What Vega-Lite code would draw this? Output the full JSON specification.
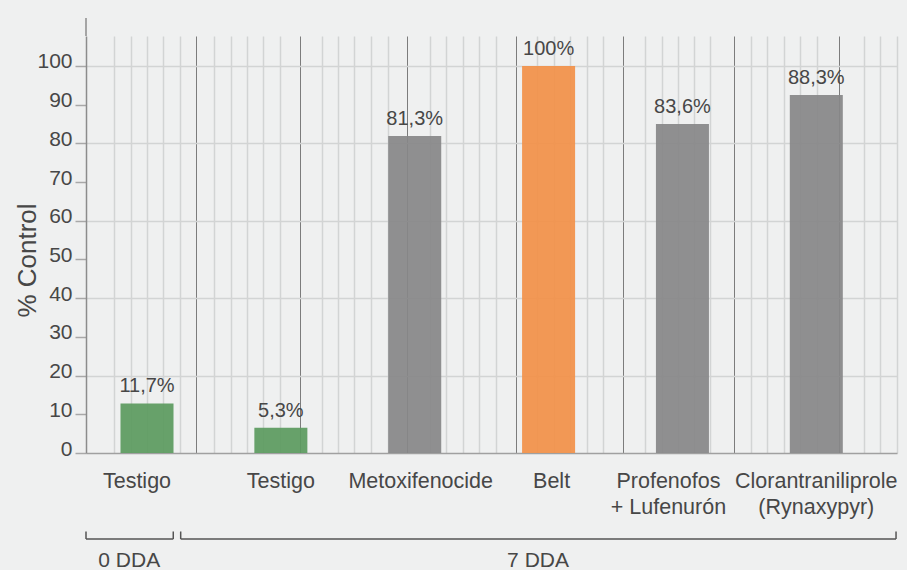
{
  "$schema": "https://vega.github.io/schema/vega-lite/v6.json",
  "width": 811,
  "height": 417,
  "autosize": {"type": "none"},
  "padding": {"left": 86, "top": 36, "right": 10, "bottom": 117},
  "background": "#eff0f0",
  "config": {
    "view": {"stroke": null},
    "font": "Liberation Sans",
    "text": {"font": "Liberation Sans"}
  },
  "data": {
    "values": [
      {"tratamiento": "Testigo", "dda": "0 DDA", "tipo": "Testigo", "control": 12.8, "etiqueta": "11,7%"},
      {"tratamiento": "Testigo ", "dda": "7 DDA", "tipo": "Testigo", "control": 6.5, "etiqueta": "5,3%"},
      {"tratamiento": "Metoxifenocide", "dda": "7 DDA", "tipo": "Otro", "control": 81.9, "etiqueta": "81,3%"},
      {"tratamiento": "Belt", "dda": "7 DDA", "tipo": "Belt", "control": 100, "etiqueta": "100%"},
      {"tratamiento": "Profenofos\n+ Lufenurón", "dda": "7 DDA", "tipo": "Otro", "control": 85.0, "etiqueta": "83,6%"},
      {"tratamiento": "Clorantraniliprole\n(Rynaxypyr)", "dda": "7 DDA", "tipo": "Otro", "control": 92.5, "etiqueta": "88,3%"}
    ]
  },
  "layer": [
    {
      "data": {"values": [{}]},
      "layer": [
        {
          "mark": {"type": "rule", "color": "#555555", "strokeWidth": 1.5},
          "encoding": {
            "x": {
              "datum": 0, "type": "quantitative",
              "scale": {"domain": [0, 7.537], "nice": false, "zero": false},
              "axis": {
                "orient": "bottom", "title": null, "labels": false, "ticks": false, "domain": false,
                "grid": true, "tickCount": 200,
                "values": [0.263, 0.415, 0.570, 0.718, 0.874, 1.025, 1.192, 1.345, 1.496, 1.648, 1.800, 1.986, 2.190, 2.342, 2.493, 2.649, 2.807, 2.982, 3.194, 3.349, 3.504, 3.655, 3.813, 3.993, 4.191, 4.346, 4.496, 4.652, 4.802, 4.990, 5.195, 5.349, 5.500, 5.651, 5.803, 6.019, 6.177, 6.332, 6.483, 6.638, 6.790, 7.001, 7.228, 7.379, 7.533],
                "gridColor": {"condition": {"test": "abs(datum.value - round(datum.value)) < 0.05", "value": "#7c7c7c"}, "value": "#d2d4d4"},
                "gridWidth": {"condition": {"test": "abs(datum.value - round(datum.value)) < 0.05", "value": 1}, "value": 1.5}
              }
            },
            "x2": {"datum": 0.811},
            "y": {"datum": -22.22, "type": "quantitative", "scale": {"domain": [0, 107.75], "nice": false}}
          }
        },
        {
          "mark": {"type": "rule", "color": "#555555", "strokeWidth": 1.5},
          "encoding": {
            "x": {"datum": 0.88, "type": "quantitative", "scale": {"domain": [0, 7.537], "nice": false, "zero": false}},
            "x2": {"datum": 7.528},
            "y": {"datum": -22.22, "type": "quantitative", "scale": {"domain": [0, 107.75], "nice": false}}
          }
        },
        {
          "mark": {"type": "rule", "color": "#555555", "strokeWidth": 1.5},
          "encoding": {
            "x": {"datum": 0, "type": "quantitative", "scale": {"domain": [0, 7.537], "nice": false, "zero": false}},
            "y": {"datum": -22.22, "type": "quantitative", "scale": {"domain": [0, 107.75], "nice": false}},
            "y2": {"datum": -20.28}
          }
        },
        {
          "mark": {"type": "rule", "color": "#555555", "strokeWidth": 1.5},
          "encoding": {
            "x": {"datum": 0.811, "type": "quantitative", "scale": {"domain": [0, 7.537], "nice": false, "zero": false}},
            "y": {"datum": -22.22, "type": "quantitative", "scale": {"domain": [0, 107.75], "nice": false}},
            "y2": {"datum": -20.28}
          }
        },
        {
          "mark": {"type": "rule", "color": "#555555", "strokeWidth": 1.5},
          "encoding": {
            "x": {"datum": 0.88, "type": "quantitative", "scale": {"domain": [0, 7.537], "nice": false, "zero": false}},
            "y": {"datum": -22.22, "type": "quantitative", "scale": {"domain": [0, 107.75], "nice": false}},
            "y2": {"datum": -20.28}
          }
        },
        {
          "mark": {"type": "rule", "color": "#555555", "strokeWidth": 1.5},
          "encoding": {
            "x": {"datum": 7.528, "type": "quantitative", "scale": {"domain": [0, 7.537], "nice": false, "zero": false}},
            "y": {"datum": -22.22, "type": "quantitative", "scale": {"domain": [0, 107.75], "nice": false}},
            "y2": {"datum": -20.28}
          }
        },
        {
          "mark": {"type": "rule", "color": "#8c8c8c", "strokeWidth": 1.5},
          "encoding": {
            "x": {"datum": 0, "type": "quantitative", "scale": {"domain": [0, 7.537], "nice": false, "zero": false}},
            "y": {"datum": 107.75, "type": "quantitative", "scale": {"domain": [0, 107.75], "nice": false}},
            "y2": {"datum": 112.4}
          }
        },
        {
          "mark": {"type": "text", "fontSize": 21, "color": "#474747", "align": "center", "baseline": "alphabetic"},
          "encoding": {
            "x": {"datum": 0.402, "type": "quantitative", "scale": {"domain": [0, 7.537], "nice": false, "zero": false}},
            "y": {"datum": -29.38, "type": "quantitative", "scale": {"domain": [0, 107.75], "nice": false}},
            "text": {"value": "0 DDA"}
          }
        },
        {
          "mark": {"type": "text", "fontSize": 21, "color": "#474747", "align": "center", "baseline": "alphabetic"},
          "encoding": {
            "x": {"datum": 4.201, "type": "quantitative", "scale": {"domain": [0, 7.537], "nice": false, "zero": false}},
            "y": {"datum": -29.38, "type": "quantitative", "scale": {"domain": [0, 107.75], "nice": false}},
            "text": {"value": "7 DDA"}
          }
        }
      ]
    },
    {
      "layer": [
        {
          "mark": {"type": "bar", "opacity": 0.92},
          "encoding": {
            "x": {
              "field": "tratamiento", "type": "nominal", "sort": null,
              "scale": {"paddingInner": 0.604, "paddingOuter": 0.3313, "align": 0.389},
              "axis": {
                "orient": "bottom", "title": null, "labelAngle": 0, "labelFontSize": 21.5, "labelColor": "#474747",
                "labelPadding": 17.5, "labelBaseline": "top", "labelLineHeight": 26,
                "labelExpr": "split(datum.label, '\\n')", "labelLimit": 0, "labelOverlap": false,
                "labelOffset": {"condition": [
                  {"test": "datum.value === 'Testigo'", "value": -10},
                  {"test": "datum.value === 'Metoxifenocide'", "value": 6},
                  {"test": "datum.value === 'Belt'", "value": 3},
                  {"test": "indexof(datum.value, 'Profenofos') === 0", "value": -14}
                ], "value": 0},
                "ticks": false, "tickSize": 0, "domainColor": "#a0a0a0", "domainWidth": 1.5, "grid": false
              }
            },
            "y": {
              "field": "control", "type": "quantitative",
              "scale": {"domain": [0, 107.75], "nice": false},
              "axis": {
                "orient": "left", "title": "% Control", "tickCount": 20,
                "values": [0, 10, 20, 30, 40, 50, 60, 70, 80, 90, 100],
                "grid": true, "gridColor": "#d2d4d4", "gridWidth": 1.5,
                "gridOpacity": {"condition": {"test": "datum.value > 0 && datum.value % 20 === 0", "value": 1}, "value": 0},
                "labelFontSize": 21, "labelColor": "#474747", "labelPadding": 3, "labelOffset": -4,
                "tickSize": 11, "tickColor": "#a8a8a8", "tickWidth": 1.5,
                "domainColor": "#8c8c8c", "domainWidth": 1.5,
                "titleFontSize": 26, "titleFontWeight": "normal", "titleColor": "#474747",
                "titleX": -51, "titleY": 224, "titleAngle": -90, "titleBaseline": "alphabetic", "titleAlign": "center"
              }
            },
            "color": {
              "field": "tipo", "type": "nominal",
              "scale": {"domain": ["Testigo", "Belt", "Otro"], "range": ["#5b9a5e", "#f29048", "#878788"]},
              "legend": null
            }
          }
        },
        {
          "mark": {"type": "text", "dy": -11, "baseline": "alphabetic", "align": "center", "fontSize": 20, "color": "#474747"},
          "encoding": {
            "x": {"field": "tratamiento", "type": "nominal", "sort": null},
            "y": {"field": "control", "type": "quantitative", "scale": {"domain": [0, 107.75], "nice": false}},
            "text": {"field": "etiqueta"}
          }
        }
      ]
    }
  ],
  "resolve": {"scale": {"x": "independent"}, "axis": {"x": "independent"}}
}
